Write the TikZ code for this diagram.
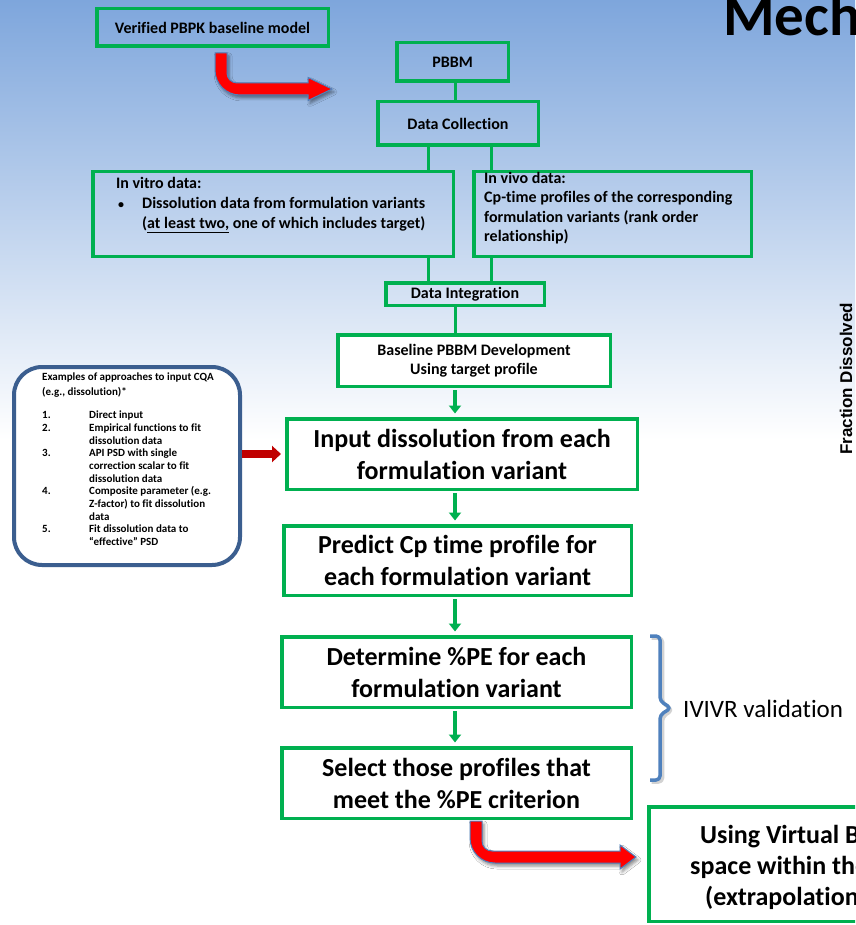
\documentclass[tikz,border=0pt]{standalone}
\usepackage{fontspec}
\setmainfont{Carlito}[Ligatures=CommonOff]
\newfontfamily\arialfont{Liberation Sans}
\usetikzlibrary{arrows.meta,shadows.blur}
\definecolor{boxgreen}{HTML}{00B050}
\definecolor{skytop}{HTML}{7EA6DC}
\definecolor{bracketblue}{HTML}{4F81BD}
\definecolor{panelblue}{HTML}{3B5E8F}
\definecolor{darkred}{HTML}{C00000}
\newcommand{\fsz}[2]{\fontsize{#1}{#2}\selectfont}

\begin{document}
\begin{tikzpicture}[x=1pt,y=-1pt,
  gbox/.style={draw=boxgreen, line width=3.5pt, inner sep=0pt, align=center,
               font=\bfseries\fsz{16}{19}},
  bigbox/.style={gbox, fill=white, font=\bfseries\fsz{26}{32}},
  gline/.style={draw=boxgreen, line width=3pt},
  garrow/.style={draw=boxgreen, line width=3.5pt, shorten <=2pt, shorten >=3.5pt,
                 -{Triangle[width=12pt,length=8pt]}},
  fatarrow/.style={fill=red, draw=bracketblue, line width=1pt, line join=miter,
                   blur shadow={shadow xshift=2pt, shadow yshift=-3pt,
                                shadow blur radius=3pt, shadow opacity=45}},
  plaintext/.style={inner sep=0pt, anchor=north west},
]
\useasboundingbox (0,0) rectangle (855,925);
\clip (0,0) rectangle (855,925);

% sky gradient behind the upper half
\shade[top color=skytop, bottom color=white] (0,0) rectangle (855,440);
\fill[white] (0,440) rectangle (855,925);

% title and side label
\node[inner sep=0pt, anchor=base west, font=\bfseries\fsz{59}{62}] (title) at (723,36) {Mechanistic};
\node[inner sep=0pt, anchor=base west, rotate=90, font=\arialfont\bfseries\fsz{17}{20}] (axislabel)
  at (852,455) {Fraction Dissolved};

% guide lanes for vertical connectors
\coordinate (spine) at (455,0);
\coordinate (lane1) at (428,0);
\coordinate (lane2) at (491,0);

% upper boxes
\node[gbox, minimum width=231.5pt, minimum height=37.5pt] (ver) at (212.5,27.5) {Verified PBPK baseline model};
\node[gbox, minimum width=111.5pt, minimum height=38.5pt] (pbbm) at (452.5,62) {PBBM};
\node[gbox, minimum width=160.5pt, minimum height=43.5pt] (dc) at (458,123.5) {Data Collection};
\node[gbox, minimum width=360.5pt, minimum height=84.5pt] (vitro) at (273,214) {};
\node[gbox, minimum width=277.5pt, minimum height=84.5pt] (vivo) at (612.5,214) {};
\node[gbox, minimum width=158.5pt, minimum height=22.5pt] (di) at (465,294) {Data Integration};
\node[gbox, fill=white, minimum width=272.5pt, minimum height=51.5pt, font=\bfseries\fsz{16}{18.5}] (base) at (474,360.5)
  {Baseline PBBM Development\\Using target profile};

% texts of the two data boxes
\node[plaintext, font=\bfseries\fsz{16}{20}] (vitrotext) at (116,174.3) {%
  \begin{tabular}{@{}p{26pt}@{}l@{}}
  \multicolumn{2}{@{}l@{}}{In vitro data:}\\
  \hspace{2pt}{\fsz{12}{12}\textbullet} & Dissolution data from formulation variants\\
  & (\underline{at least two,} one of which includes target)
  \end{tabular}};
\node[plaintext, font=\bfseries\fsz{16}{19.5}] (vivotext) at (484,169.6) {%
  \begin{tabular}{@{}l@{}}
  In vivo data:\\
  Cp-time profiles of the corresponding\\
  formulation variants (rank order\\
  relationship)
  \end{tabular}};

% main flow boxes
\node[bigbox, minimum width=350.5pt, minimum height=70.5pt] (input) at (462,454)
  {Input dissolution from each\\formulation variant};
\node[bigbox, minimum width=347.5pt, minimum height=69.5pt] (predict) at (457.5,560.5)
  {Predict Cp time profile for\\each formulation variant};
\node[bigbox, minimum width=349.5pt, minimum height=70.5pt] (det) at (456.5,672)
  {Determine \%PE for each\\formulation variant};
\node[bigbox, minimum width=349.5pt, minimum height=70.5pt] (sel) at (456.5,783)
  {Select those profiles that\\meet the \%PE criterion};

% outcome box running past the right edge
\node[gbox, fill=white, minimum width=450pt, minimum height=114.5pt] (vbe) at (874,864) {};
\node[inner sep=0pt, anchor=base west, font=\bfseries\fsz{26}{31}] (vbe1) at (700,843) {Using Virtual BE};
\node[inner sep=0pt, anchor=base west, font=\bfseries\fsz{26}{31}] (vbe2) at (690,874) {space within the};
\node[inner sep=0pt, anchor=base west, font=\bfseries\fsz{26}{31}] (vbe3) at (705,905) {(extrapolation)};

% connectors of the upper part
\draw[gline] (pbbm.south -| spine) -- (dc.north -| spine);
\draw[gline] (dc.south -| lane1) -- (vitro.north -| lane1);
\draw[gline] (dc.south -| lane2) -- (vivo.north -| lane2);
\draw[gline] (vitro.south -| lane1) -- (di.north -| lane1);
\draw[gline] (vivo.south -| lane2) -- (di.north -| lane2);
\draw[gline] (di.south -| spine) -- (base.north -| spine);

% arrows of the main flow
\draw[garrow] (base.south -| spine) -- (input.north -| spine);
\draw[garrow] (input.south -| spine) -- (predict.north -| spine);
\draw[garrow] (predict.south -| spine) -- (det.north -| spine);
\draw[garrow] (det.south -| spine) -- (sel.north -| spine);

% panel of input approaches
\node[draw=panelblue, line width=4pt, rounded corners=28pt, fill=white,
      minimum width=226pt, minimum height=198pt, inner sep=0pt] (lbox) at (127,466) {};
\node[plaintext, font=\bfseries\fsz{11}{12.7}] (lboxtext) at (42,371.3) {%
  \begin{tabular}{@{}p{47pt}@{}l@{}}
  \multicolumn{2}{@{}l@{}}{Examples of approaches to input CQA}\\[2.3pt]
  \multicolumn{2}{@{}l@{}}{(e.g., dissolution)*}\\[10.6pt]
  1. & Direct input\\
  2. & Empirical functions to fit\\
     & dissolution data\\
  3. & API PSD with single\\
     & correction scalar to fit\\
     & dissolution data\\
  4. & Composite parameter (e.g.\\
     & Z-factor) to fit dissolution\\
     & data\\
  5. & Fit dissolution data to\\
     & “effective” PSD
  \end{tabular}};
\draw[draw=darkred, line width=8pt, shorten >=4pt, -{Triangle[width=16pt,length=9pt]}]
  (lbox.east |- input.west) -- (input.west);

% validation bracket
\draw[black!35, opacity=0.5, line width=3.5pt, line join=round, rounded corners=4pt]
  (651.5,638) -- (662.5,638) -- (662.5,703) -- (672.5,710) -- (662.5,717) -- (662.5,782) -- (651.5,782);
\draw[bracketblue, line width=3.5pt, line join=round, rounded corners=4pt]
  (650,636) -- (660,636) -- (660,701) -- (671,708) -- (660,715) -- (660,780) -- (650,780);
\node[inner sep=0pt, anchor=base west, font=\fsz{25}{30}] (ivivr) at (683,717) {IVIVR validation};

% bent block arrows
\path[fatarrow] (215,53) -- (227,53) -- (227,73)
  .. controls (227,78.5) and (231.5,83) .. (237,83) -- (308,83) -- (308,77.5)
  -- (332,89) -- (308,100.5) -- (308,95) -- (240,95)
  .. controls (226.2,95) and (215,83.8) .. (215,70) -- cycle;
\path[fatarrow] (470,821) -- (482,821) -- (482,841)
  .. controls (482,846.5) and (486.5,851) .. (492,851) -- (620,851) -- (620,845)
  -- (636,857) -- (620,869) -- (620,863) -- (495,863)
  .. controls (481.2,863) and (470,851.8) .. (470,838) -- cycle;
\end{tikzpicture}
\end{document}
